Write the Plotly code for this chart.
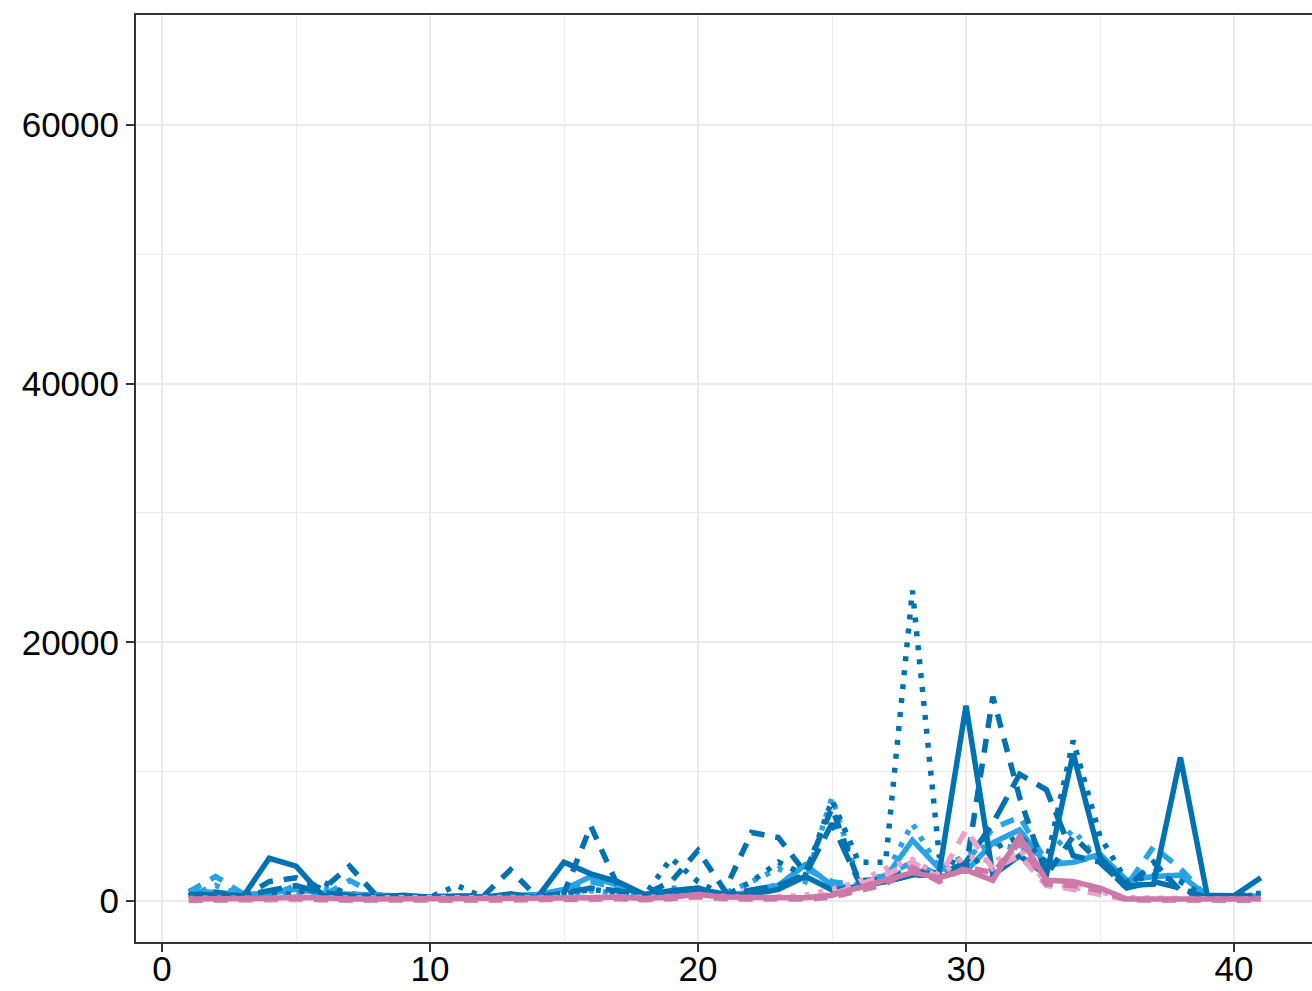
import plotly.graph_objects as go

# Time index shared by all series
x = list(range(1, 42))

# Dark blue group
db_solid = [500, 450, 250, 3300, 2700, 400, 350, 300, 450, 300, 350, 300, 550, 250, 3000,
            2100, 1500, 500, 800, 1000, 400, 500, 900, 1900, 850, 1100, 1500, 2000, 2200, 15100,
            2000, 3500, 2000, 11400, 3400, 1200, 1300, 11100, 450, 400, 1800]
db_dash = [400, 700, 300, 1500, 1800, 900, 2700, 400, 300, 300, 300, 400, 2400, 300, 600,
           5800, 1200, 500, 1500, 3900, 800, 5300, 4900, 2200, 7200, 1500, 1800, 2500, 1800, 2500,
           15800, 8000, 2000, 5000, 3000, 1000, 3000, 800, 300, 300, 500]
db_dot = [300, 600, 300, 600, 500, 1500, 400, 300, 300, 300, 1200, 300, 400, 300, 500,
          900, 600, 400, 3300, 1500, 400, 1500, 3000, 2000, 7800, 3000, 3000, 24000, 3500, 2500,
          4000, 5000, 3000, 12400, 5000, 1500, 2000, 1500, 300, 300, 400]
db_longdash = [350, 500, 400, 800, 1200, 600, 400, 300, 300, 300, 300, 350, 400, 300, 600,
               1000, 800, 400, 700, 900, 500, 900, 1200, 2000, 6000, 1500, 1500, 2000, 2000, 3000,
               6000, 9800, 8600, 3500, 3000, 1000, 1500, 1000, 200, 400, 600]

# Light blue group
lb_solid = [800, 700, 500, 600, 900, 600, 500, 400, 300, 300, 400, 300, 400, 500, 900,
            1900, 1200, 400, 700, 800, 500, 600, 1200, 2800, 1200, 1000, 1800, 4700, 2500, 2300,
            4500, 5500, 2800, 3000, 3600, 1600, 1900, 2000, 400, 300, 350]
lb_dash = [700, 1900, 600, 400, 1200, 400, 1600, 500, 300, 300, 300, 300, 400, 300, 700,
           1500, 1000, 500, 600, 1000, 400, 700, 1300, 2500, 1500, 1200, 2000, 3000, 2000, 3000,
           5600, 6500, 3000, 3000, 3500, 1200, 4200, 2500, 300, 300, 400]
lb_dot = [400, 1200, 400, 300, 500, 1000, 600, 300, 300, 300, 300, 300, 300, 300, 500,
          800, 600, 400, 1000, 800, 600, 1500, 2500, 1500, 8000, 1500, 2000, 6000, 2500, 3500,
          4500, 4000, 3500, 5500, 3000, 1500, 2500, 1500, 300, 300, 300]

# Pink group
pk_solid = [150, 150, 150, 200, 300, 200, 150, 150, 150, 150, 150, 150, 200, 200, 150,
            250, 300, 200, 300, 500, 300, 250, 250, 250, 450, 1000, 1600, 2200, 1800, 2400,
            1600, 5000, 1600, 1500, 1000, 150, 150, 150, 100, 100, 150]
pk_dash = [60, 80, 100, 100, 200, 100, 80, 80, 80, 80, 80, 80, 100, 100, 80,
           150, 200, 100, 200, 350, 200, 150, 150, 150, 300, 800, 1300, 2600, 1500, 2600,
           2200, 4500, 1300, 1200, 800, 100, 80, 80, 60, 60, 80]
lp_dash = [40, 50, 80, 120, 180, 120, 60, 60, 60, 60, 60, 60, 80, 80, 60,
           120, 180, 120, 180, 320, 180, 120, 200, 250, 500, 1200, 2000, 3000, 1800, 5500,
           2500, 3500, 1200, 900, 500, 120, 60, 60, 40, 40, 60]
lp_dot = [200, 200, 220, 250, 300, 220, 200, 200, 200, 200, 200, 200, 220, 220, 200,
          250, 300, 220, 300, 450, 300, 250, 350, 450, 900, 1500, 2500, 3200, 2000, 3500,
          3000, 4000, 1400, 1100, 700, 250, 200, 200, 150, 150, 200]

y_ticks = [0, 20000, 40000, 60000]
x_ticks = [0, 10, 20, 30, 40]

DARK_BLUE = "#0072B2"
LIGHT_BLUE = "#29A3E4"
PINK = "#CC79A7"
LIGHT_PINK = "#EBA3CB"

DOT = "5px,9px"
DASH = "14px,11px"
LONGDASH = "24px,11px"

series = [
    (lb_dot, LIGHT_BLUE, DOT),
    (lb_dash, LIGHT_BLUE, DASH),
    (lb_solid, LIGHT_BLUE, "solid"),
    (db_longdash, DARK_BLUE, LONGDASH),
    (db_dot, DARK_BLUE, DOT),
    (db_dash, DARK_BLUE, DASH),
    (db_solid, DARK_BLUE, "solid"),
    (lp_dot, LIGHT_PINK, DOT),
    (lp_dash, LIGHT_PINK, DASH),
    (pk_dash, PINK, DASH),
    (pk_solid, PINK, "solid"),
]

fig = go.Figure()
for ys, color, dash in series:
    fig.add_trace(go.Scatter(
        x=x, y=ys, mode="lines",
        line=dict(color=color, width=5.5, dash=dash),
        showlegend=False,
    ))

axis_font = dict(family="Liberation Sans, Arial, sans-serif", size=35, color="#000000")

fig.update_layout(
    width=1312, height=991,
    margin=dict(l=136, r=0, t=15, b=49, autoexpand=False),
    paper_bgcolor="white",
    plot_bgcolor="white",
    showlegend=False,
)
fig.update_xaxes(
    range=[-0.97, 42.91],
    automargin=False,
    tickvals=x_ticks,
    ticktext=[str(v) for v in x_ticks],
    ticklabelstandoff=-13,
    showgrid=True, gridcolor="#EBEBEB", gridwidth=2.2,
    minor=dict(tickvals=[5, 15, 25, 35], showgrid=True, gridcolor="#EBEBEB", gridwidth=1.1),
    zeroline=False,
    showline=True, linecolor="#333333", linewidth=2, mirror=True,
    ticks="outside", ticklen=8, tickwidth=2, tickcolor="#333333",
    tickfont=axis_font,
)
fig.update_yaxes(
    range=[-3170, 68500],
    automargin=False,
    tickvals=y_ticks,
    ticktext=[str(v) for v in y_ticks],
    showgrid=True, gridcolor="#EBEBEB", gridwidth=2.2,
    minor=dict(tickvals=[10000, 30000, 50000], showgrid=True, gridcolor="#EBEBEB", gridwidth=1.1),
    zeroline=False,
    showline=True, linecolor="#333333", linewidth=2, mirror=False,
    ticks="outside", ticklen=8, tickwidth=2, tickcolor="#333333",
    tickfont=axis_font,
)

fig.write_html("out.html")
